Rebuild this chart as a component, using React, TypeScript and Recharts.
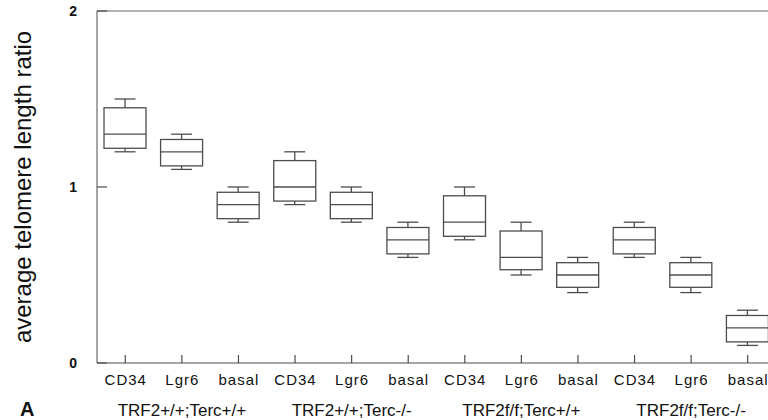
import React from "react";
import { ComposedChart, Bar, XAxis, YAxis, ReferenceLine } from "recharts";

const groups = ["TRF2+/+;Terc+/+", "TRF2+/+;Terc-/-", "TRF2f/f;Terc+/+", "TRF2f/f;Terc-/-"];
const cells = ["CD34", "Lgr6", "basal"];
const yTicks = [0, 1, 2];

// per box, in order group by group
const mins = [1.2, 1.1, 0.8, 0.9, 0.8, 0.6, 0.7, 0.5, 0.4, 0.6, 0.4, 0.1];
const q1s = [1.22, 1.12, 0.82, 0.92, 0.82, 0.62, 0.72, 0.53, 0.43, 0.62, 0.43, 0.12];
const medians = [1.3, 1.2, 0.9, 1.0, 0.9, 0.7, 0.8, 0.6, 0.5, 0.7, 0.5, 0.2];
const q3s = [1.45, 1.27, 0.97, 1.15, 0.97, 0.77, 0.95, 0.75, 0.57, 0.77, 0.57, 0.27];
const maxs = [1.5, 1.3, 1.0, 1.2, 1.0, 0.8, 1.0, 0.8, 0.6, 0.8, 0.6, 0.3];

const data = mins.map((min, i) => ({
  key: `${groups[Math.floor(i / 3)]}|${cells[i % 3]}`,
  cell: cells[i % 3],
  group: groups[Math.floor(i / 3)],
  min,
  q1: q1s[i],
  median: medians[i],
  q3: q3s[i],
  max: maxs[i],
  range: [min, maxs[i]],
}));

const FONT = '"Liberation Sans", Arial, sans-serif';
const LINE = "#4d4d4d";

const BoxShape = (props: any) => {
  const { x, y, width, height, payload } = props;
  const lo = payload.min;
  const hi = payload.max;
  const py = (v: number) => y + ((hi - v) / (hi - lo)) * height;
  const cx = x + width / 2;
  const capHalf = width / 4;
  return (
    <g stroke={LINE} strokeWidth={1.3} fill="none">
      <line x1={cx} x2={cx} y1={py(hi)} y2={py(lo)} />
      <line x1={cx - capHalf} x2={cx + capHalf} y1={py(hi)} y2={py(hi)} />
      <line x1={cx - capHalf} x2={cx + capHalf} y1={py(lo)} y2={py(lo)} />
      <rect x={x} y={py(payload.q3)} width={width} height={py(payload.q1) - py(payload.q3)} fill="#fff" />
      <line x1={x} x2={x + width} y1={py(payload.median)} y2={py(payload.median)} />
    </g>
  );
};

const XTick = (props: any) => {
  const { x, y, index } = props;
  const d = data[index];
  return (
    <g>
      <line x1={x} x2={x} y1={y} y2={y - 8} stroke={LINE} strokeWidth={1.2} />
      <text x={x + 0.5} y={y + 22} textAnchor="middle" fontSize={15} letterSpacing={1} fill="#111" fontFamily={FONT}>
        {d.cell}
      </text>
      {index % 3 === 1 && (
        <text x={x} y={y + 53} textAnchor="middle" fontSize={17} fill="#111" fontFamily={FONT}>
          {d.group}
        </text>
      )}
    </g>
  );
};

const YTick = (props: any) => {
  const { x, y, payload } = props;
  return (
    <g>
      <line x1={x} x2={x + 10} y1={y} y2={y} stroke={LINE} strokeWidth={1.2} />
      <text x={x - 20} y={y + 5} textAnchor="end" fontSize={14} fontWeight="bold" fill="#111" fontFamily={FONT}>
        {payload.value}
      </text>
    </g>
  );
};

const YLabel = (props: any) => {
  const vb = props.viewBox;
  const cx = vb.x + 31;
  const cy = vb.y + vb.height / 2;
  return (
    <text
      x={cx}
      y={cy}
      transform={`rotate(-90, ${cx}, ${cy})`}
      textAnchor="middle"
      fontSize={24}
      fill="#111"
      fontFamily={FONT}
    >
      average telomere length ratio
    </text>
  );
};

export default function App() {
  return (
    <div
      style={{
        position: "fixed",
        left: 0,
        top: 0,
        width: 768,
        height: 420,
        overflow: "hidden",
        background: "#fff",
        fontFamily: FONT,
      }}
    >
      <ComposedChart width={776} height={420} data={data} margin={{ top: 11, right: 0, left: 0, bottom: 0 }}>
        <XAxis
          dataKey="key"
          height={57}
          stroke={LINE}
          tickLine={false}
          tickSize={0}
          tickMargin={0}
          tick={<XTick />}
          interval={0}
        />
        <YAxis
          domain={[0, 2]}
          ticks={yTicks}
          width={97}
          stroke={LINE}
          tickLine={false}
          tickSize={0}
          tickMargin={0}
          tick={<YTick />}
          label={<YLabel />}
        />
        <ReferenceLine y={2} stroke="#999" strokeWidth={1.5} />
        <Bar dataKey="range" barSize={42} shape={<BoxShape />} isAnimationActive={false} />
      </ComposedChart>
      <div
        style={{
          position: "absolute",
          left: 20,
          top: 399,
          fontSize: 20,
          fontWeight: "bold",
          color: "#111",
          lineHeight: "20px",
        }}
      >
        A
      </div>
    </div>
  );
}
